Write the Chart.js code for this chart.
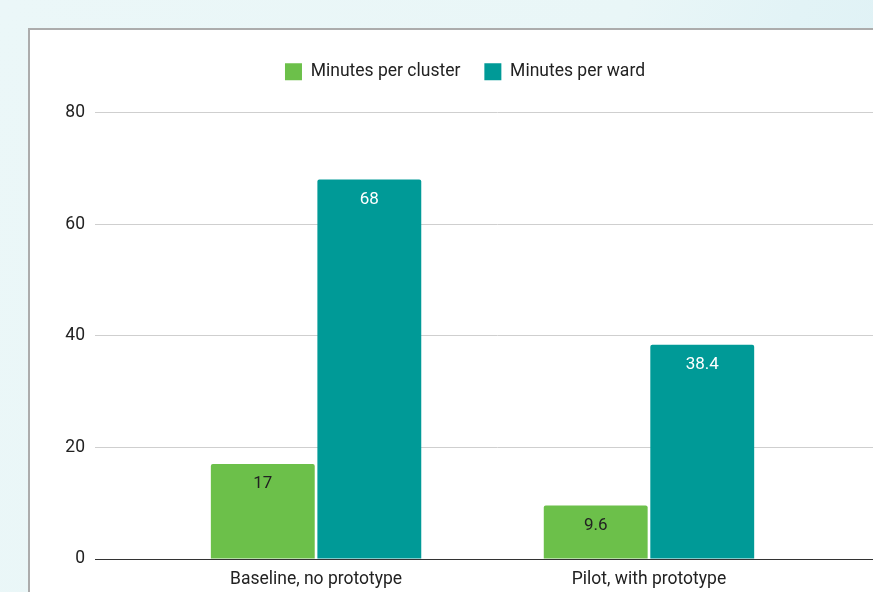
<!DOCTYPE html>
<html>
<head>
<meta charset="utf-8">
<script src="https://cdn.jsdelivr.net/npm/chart.js@4"></script>
<style>
  html, body { margin: 0; padding: 0; width: 873px; height: 592px; overflow: hidden; }
  body {
    background: linear-gradient(115deg, #ebf7f8 0%, #e9f6f7 55%, #e2f3f6 70%, #dbeff4 100%);
    font-family: Roboto, sans-serif;
  }
  #card {
    position: absolute; left: 28px; top: 28px; width: 900px; height: 600px;
    background: #fff; border: 2px solid #acacac; box-sizing: border-box;
  }
  #wrap { position: absolute; left: 30px; top: 30px; width: 870px; height: 600px; }
</style>
</head>
<body>
<div id="card"></div>
<div id="wrap"><canvas id="chart"></canvas></div>
<script>
const categories = ['Baseline, no prototype', 'Pilot, with prototype'];
const clusterMinutes = [17, 9.6];
const wardMinutes = [68, 38.4];
const yTicks = [0, 20, 40, 60, 80];

const toPoints = vals => vals.map((v, i) => ({ x: i, y: v }));

// draws the value inside the top of each bar
const barLabels = {
  id: 'barLabels',
  afterDatasetsDraw(chart) {
    const ctx = chart.ctx;
    ctx.save();
    ctx.font = '17px Roboto';
    ctx.textAlign = 'center';
    ctx.textBaseline = 'middle';
    chart.data.datasets.forEach((ds, di) => {
      chart.getDatasetMeta(di).data.forEach((bar, i) => {
        ctx.fillStyle = ds.labelColor;
        ctx.fillText(String(ds.data[i].y), bar.x, bar.y + 20);
      });
    });
    ctx.restore();
  }
};

// extra room under the legend
const legendGap = {
  id: 'legendGap',
  beforeInit(chart) {
    const orig = chart.legend.fit;
    chart.legend.fit = function () {
      orig.call(this);
      this.height += 22;
    };
  }
};

Chart.defaults.font.family = 'Roboto';
Chart.defaults.color = '#222';

new Chart(document.getElementById('chart'), {
  type: 'bar',
  data: {
    datasets: [
      {
        label: 'Minutes per cluster',
        data: toPoints(clusterMinutes),
        backgroundColor: '#6cc04a',
        labelColor: '#222'
      },
      {
        label: 'Minutes per ward',
        data: toPoints(wardMinutes),
        backgroundColor: '#009a97',
        labelColor: '#fff'
      }
    ]
  },
  options: {
    responsive: true,
    maintainAspectRatio: false,
    animation: false,
    categoryPercentage: 0.64,
    barPercentage: 0.975,
    borderRadius: { topLeft: 2, topRight: 2 },
    borderSkipped: 'start',
    layout: { padding: { top: 9, bottom: 30 } },
    plugins: {
      legend: {
        position: 'top',
        labels: {
          boxWidth: 17,
          boxHeight: 17,
          padding: 24,
          font: { size: 17.5 },
          color: '#222'
        }
      },
      tooltip: { enabled: false }
    },
    scales: {
      x: {
        type: 'linear',
        offset: false,
        min: -0.664,
        max: 1.754,
        grid: { display: false, drawTicks: false },
        border: { display: true, color: '#333', width: 1 },
        afterBuildTicks: s => { s.ticks = categories.map((c, i) => ({ value: i })); },
        ticks: {
          autoSkip: false,
          maxRotation: 0,
          padding: 10,
          font: { size: 17.5 },
          callback: v => categories[v]
        }
      },
      y: {
        min: 0,
        max: 80,
        afterBuildTicks: s => { s.ticks = yTicks.map(v => ({ value: v })); },
        afterFit: s => { s.width = 65; },
        grid: { color: '#cfcfcf', drawTicks: false },
        border: { display: false },
        ticks: { padding: 10, font: { size: 17.5 } }
      }
    }
  },
  plugins: [barLabels, legendGap]
});
</script>
</body>
</html>
